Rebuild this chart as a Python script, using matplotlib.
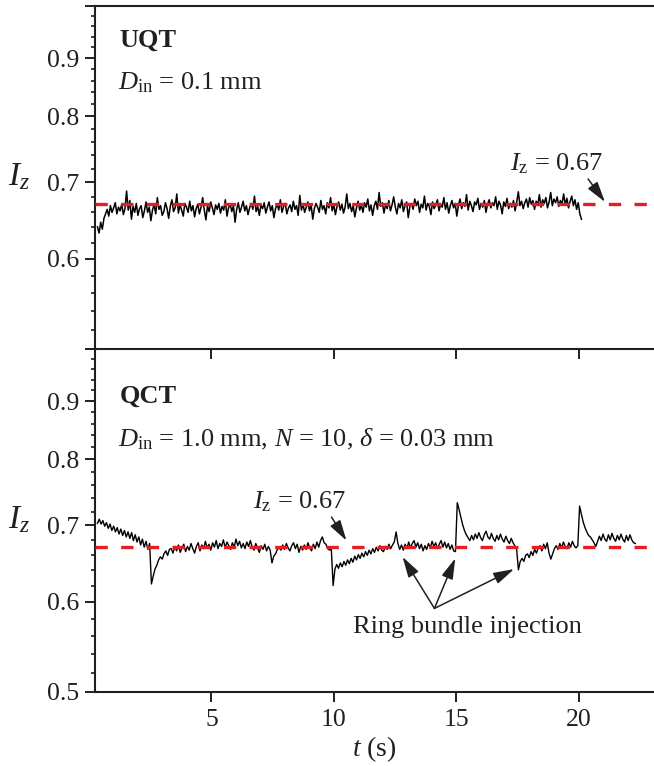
import numpy as np
import matplotlib
matplotlib.use('Agg')
import matplotlib.pyplot as plt
from matplotlib.ticker import FixedLocator, NullFormatter

plt.rcParams['font.family'] = ['Liberation Serif', 'DejaVu Serif']
plt.rcParams['mathtext.fontset'] = 'custom'
plt.rcParams['mathtext.rm'] = 'Liberation Serif'
plt.rcParams['mathtext.it'] = 'Liberation Serif:italic'
plt.rcParams['mathtext.bf'] = 'Liberation Serif:bold'

INK = '#231f20'
RED = '#e31e24'

# UQT trace, D_in = 0.1 mm
uqt_t0, uqt_t1 = 0.35, 20.1
uqt_iz = [
    0.640, 0.632, 0.646, 0.637, 0.651, 0.657, 0.663, 0.654, 0.668, 0.659, 0.665, 0.672, 0.657, 0.666, 0.661,
    0.670, 0.656, 0.664, 0.688, 0.662, 0.675, 0.650, 0.667, 0.659, 0.671, 0.655, 0.664, 0.668, 0.652, 0.661,
    0.673, 0.659, 0.666, 0.648, 0.662, 0.670, 0.657, 0.679, 0.663, 0.668, 0.655, 0.660, 0.672, 0.664, 0.651,
    0.667, 0.676, 0.660, 0.665, 0.684, 0.658, 0.669, 0.662, 0.654, 0.671, 0.666, 0.659, 0.674, 0.661, 0.668,
    0.653, 0.664, 0.670, 0.657, 0.666, 0.679, 0.662, 0.649, 0.668, 0.660, 0.673, 0.665, 0.656, 0.669, 0.663,
    0.671, 0.658, 0.667, 0.662, 0.676, 0.654, 0.665, 0.670, 0.660, 0.668, 0.646, 0.663, 0.672, 0.659, 0.666,
    0.674, 0.661, 0.668, 0.656, 0.665, 0.671, 0.663, 0.681, 0.660, 0.667, 0.655, 0.669, 0.664, 0.672, 0.658,
    0.666, 0.673, 0.661, 0.668, 0.652, 0.664, 0.670, 0.662, 0.676, 0.659, 0.667, 0.671, 0.657, 0.665, 0.669,
    0.660, 0.674, 0.663, 0.668, 0.655, 0.682, 0.662, 0.670, 0.659, 0.666, 0.673, 0.661, 0.669, 0.650, 0.664,
    0.671, 0.666, 0.659, 0.675, 0.663, 0.668, 0.657, 0.672, 0.665, 0.679, 0.661, 0.669, 0.656, 0.667, 0.673,
    0.662, 0.670, 0.658, 0.666, 0.684, 0.664, 0.671, 0.660, 0.668, 0.653, 0.665, 0.674, 0.662, 0.669, 0.659,
    0.672, 0.666, 0.677, 0.661, 0.669, 0.655, 0.668, 0.674, 0.663, 0.686, 0.667, 0.672, 0.658, 0.670, 0.664,
    0.675, 0.661, 0.669, 0.680, 0.666, 0.657, 0.671, 0.665, 0.676, 0.660, 0.668, 0.673, 0.652, 0.667, 0.671,
    0.663, 0.677, 0.668, 0.674, 0.659, 0.670, 0.665, 0.681, 0.662, 0.671, 0.667, 0.656, 0.673, 0.664, 0.669,
    0.676, 0.661, 0.670, 0.666, 0.679, 0.663, 0.672, 0.658, 0.668, 0.675, 0.665, 0.671, 0.654, 0.669, 0.677,
    0.664, 0.672, 0.667, 0.683, 0.662, 0.674, 0.668, 0.660, 0.673, 0.669, 0.678, 0.663, 0.671, 0.666, 0.675,
    0.659, 0.670, 0.676, 0.665, 0.672, 0.668, 0.680, 0.663, 0.674, 0.669, 0.657, 0.673, 0.667, 0.678, 0.664,
    0.671, 0.666, 0.675, 0.661, 0.673, 0.687, 0.668, 0.674, 0.664, 0.672, 0.677, 0.666, 0.679, 0.670, 0.675,
    0.663, 0.674, 0.669, 0.683, 0.666, 0.676, 0.671, 0.679, 0.665, 0.673, 0.686, 0.668, 0.677, 0.672, 0.680,
    0.667, 0.675, 0.670, 0.684, 0.669, 0.678, 0.665, 0.674, 0.681, 0.668, 0.676, 0.663, 0.672, 0.657, 0.650,
]

# QCT trace, D_in = 1.0 mm, N = 10, delta = 0.03 mm
qct_t0, qct_t1 = 0.35, 22.3
qct_iz = [
    0.703, 0.709, 0.702, 0.707, 0.699, 0.704, 0.696, 0.702, 0.693, 0.699,
    0.691, 0.697, 0.688, 0.695, 0.686, 0.693, 0.684, 0.691, 0.682, 0.690,
    0.679, 0.687, 0.677, 0.684, 0.673, 0.681, 0.670, 0.678, 0.667, 0.675,
    0.622,
    0.632, 0.641, 0.646, 0.653, 0.657, 0.654, 0.661, 0.665, 0.659, 0.667,
    0.668, 0.662, 0.671, 0.665, 0.673, 0.663, 0.669, 0.674, 0.664, 0.671,
    0.666, 0.675, 0.668, 0.662, 0.671, 0.676, 0.665, 0.673, 0.668, 0.678,
    0.669, 0.674, 0.666, 0.676, 0.670, 0.679, 0.668, 0.675, 0.671, 0.680,
    0.669, 0.677, 0.672, 0.667, 0.676, 0.670, 0.681, 0.672, 0.678, 0.669,
    0.675, 0.668, 0.677, 0.671, 0.679, 0.670, 0.666, 0.675, 0.669, 0.663,
    0.672, 0.667, 0.674, 0.665, 0.671, 0.666,
    0.649,
    0.658, 0.661, 0.667, 0.669,
    0.666, 0.673, 0.667, 0.675, 0.669, 0.665, 0.672, 0.676, 0.668, 0.674,
    0.663, 0.671, 0.666, 0.673, 0.667, 0.676, 0.669, 0.665, 0.674, 0.668,
    0.677, 0.670, 0.679, 0.684, 0.676, 0.674, 0.668, 0.666, 0.667,
    0.620,
    0.641, 0.647, 0.642, 0.649, 0.644, 0.651, 0.646, 0.653, 0.648, 0.655,
    0.650, 0.658, 0.653, 0.660, 0.655, 0.662, 0.657, 0.664, 0.659, 0.666,
    0.661, 0.668, 0.663, 0.670, 0.665, 0.672, 0.666, 0.664, 0.671, 0.667,
    0.674, 0.668, 0.673, 0.677,
    0.691,
    0.675, 0.667, 0.673, 0.666, 0.674, 0.668, 0.677, 0.669, 0.675, 0.679,
    0.670, 0.676, 0.668, 0.674, 0.665, 0.672, 0.667, 0.675, 0.669, 0.678,
    0.671, 0.676, 0.668, 0.674, 0.679, 0.670, 0.677, 0.669, 0.675, 0.667,
    0.673, 0.665,
    0.664, 0.733,
    0.723, 0.712, 0.701, 0.693, 0.687, 0.683,
    0.679, 0.686, 0.680, 0.688, 0.682, 0.690, 0.683, 0.679, 0.687, 0.692,
    0.684, 0.681, 0.689, 0.682, 0.678, 0.686, 0.680, 0.688, 0.681, 0.677,
    0.685, 0.679, 0.675, 0.682, 0.676, 0.672,
    0.667, 0.640,
    0.651, 0.655, 0.651, 0.659, 0.661, 0.656, 0.664, 0.659, 0.667, 0.662, 0.669,
    0.672, 0.665, 0.674, 0.668, 0.676, 0.662, 0.654, 0.661, 0.668, 0.672,
    0.667, 0.675, 0.669, 0.677, 0.671, 0.668, 0.676, 0.670, 0.678, 0.672, 0.669,
    0.672, 0.728,
    0.716, 0.705, 0.697, 0.691, 0.686, 0.684, 0.680, 0.676, 0.671,
    0.678, 0.685, 0.679, 0.688, 0.681, 0.678, 0.687, 0.680, 0.689, 0.682, 0.678,
    0.686, 0.680, 0.688, 0.681, 0.677, 0.686, 0.679, 0.687, 0.680, 0.676, 0.675,
]

iz_ref = 0.67
y_major = [0.5, 0.6, 0.7, 0.8, 0.9, 1.0]
y_minor = [0.52, 0.54, 0.56, 0.58, 0.62, 0.64, 0.66, 0.68, 0.72, 0.74, 0.76, 0.78,
           0.82, 0.84, 0.86, 0.88, 0.92, 0.94, 0.96, 0.98]
x_major = [5, 10, 15, 20]

W, H = 654, 766
fig = plt.figure(figsize=(W / 100, H / 100), dpi=100)
left = 95 / W
ax1 = fig.add_axes([left, 1 - 349 / H, 1 - left, (349 - 6) / H])
ax2 = fig.add_axes([left, 1 - 692 / H, 1 - left, (692 - 349) / H])
ax2.patch.set_visible(False)


def style(ax, ylabels):
    ax.set_yscale('log')
    ax.set_ylim(0.5, 1.0)
    ax.set_xlim(0.25, 23.06)
    ax.yaxis.set_major_locator(FixedLocator(y_major))
    ax.yaxis.set_minor_locator(FixedLocator(y_minor))
    ax.yaxis.set_minor_formatter(NullFormatter())
    ax.set_yticks(y_major, ylabels)
    ax.set_xticks(x_major)
    ax.xaxis.set_minor_locator(FixedLocator([]))
    ax.spines['right'].set_visible(False)
    for s in ['left', 'top', 'bottom']:
        ax.spines[s].set_linewidth(1.5)
        ax.spines[s].set_color(INK)
    ax.tick_params(which='major', direction='out', length=7.5, width=1.4,
                   color=INK, labelsize=18.5, labelcolor=INK, pad=4)
    ax.tick_params(which='minor', direction='out', length=3, width=1.2, color=INK)
    ax.axhline(iz_ref, color=RED, lw=2.4, dashes=(3.7, 4.0), zorder=3)
    ax.text(-0.155, 0.696, '$I_z$', transform=ax.get_yaxis_transform(),
            fontsize=24, color=INK, ha='left', va='baseline')


t_u = np.linspace(uqt_t0, uqt_t1, len(uqt_iz))
t_q = np.linspace(qct_t0, qct_t1, len(qct_iz))

ax1.plot(t_u, uqt_iz, color='black', lw=1.1, zorder=2)
style(ax1, ['', '0.6', '0.7', '0.8', '0.9', ''])
ax1.tick_params(axis='x', labelbottom=False)

ax2.plot(t_q, qct_iz, color='black', lw=1.0, zorder=2)
style(ax2, ['0.5', '0.6', '0.7', '0.8', '0.9', ''])
ax2.spines['top'].set_visible(False)
ax2.tick_params(axis='x', pad=5)
ax2.set_xlabel('$t$ (s)', fontsize=20, color=INK, labelpad=2)

ax1.text(0.043, 0.880, 'UQT', transform=ax1.transAxes, fontsize=19,
         fontweight='bold', color=INK, va='baseline')
ax1.text(0.041, 0.758, r'$D_{\mathrm{in}}$ = 0.1 mm', transform=ax1.transAxes,
         fontsize=19, color=INK, va='baseline')
ax2.text(0.045, 0.843, 'QCT', transform=ax2.transAxes, fontsize=19,
         fontweight='bold', color=INK, va='baseline')
ax2.text(0.041, 0.717, r'$D_{\mathrm{in}}$ = 1.0 mm, $N$ = 10, $\delta$ = 0.03 mm',
         transform=ax2.transAxes, fontsize=19, color=INK, va='baseline')

arrow = dict(arrowstyle='-|>,head_length=0.7,head_width=0.2', color=INK, lw=1.1,
             shrinkA=0, shrinkB=0, mutation_scale=18)
ax1.annotate('', xy=(21.06, 0.673), xytext=(20.37, 0.705), arrowprops=arrow)
ax1.text(17.2, 0.717, r'$I_{\mathrm{z}}$ = 0.67', fontsize=19, color=INK, va='baseline')
ax2.annotate('', xy=(10.51, 0.679), xytext=(9.9, 0.712), arrowprops=arrow)
ax2.text(6.7, 0.724, r'$I_{\mathrm{z}}$ = 0.67', fontsize=19, color=INK, va='baseline')

ring_tail = (14.1, 0.592)
ring_heads = [(12.8, 0.657), (14.95, 0.655), (17.35, 0.641)]
for head in ring_heads:
    ax2.annotate('', xy=head, xytext=ring_tail, arrowprops=arrow)
ax2.text(10.77, 0.570, 'Ring bundle injection', fontsize=19, color=INK, va='center')

fig.savefig('out.png', dpi=100)
